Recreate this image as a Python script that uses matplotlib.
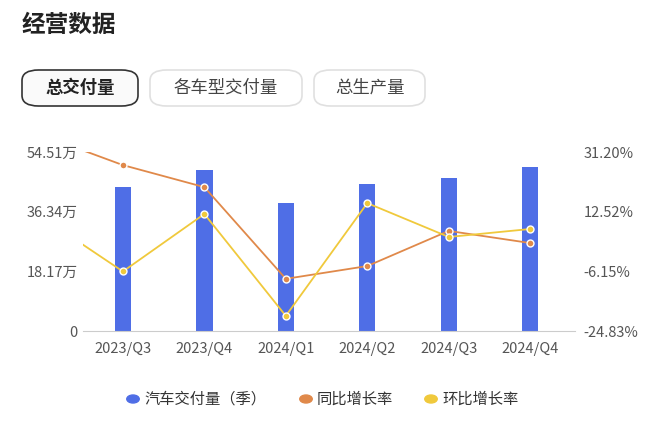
import matplotlib
matplotlib.use("Agg")
import matplotlib.pyplot as plt
from matplotlib.patches import FancyBboxPatch
import numpy as np

plt.rcParams['font.family'] = 'Noto Sans CJK SC'

categories = ["2023/Q3", "2023/Q4", "2024/Q1", "2024/Q2", "2024/Q3", "2024/Q4"]
deliveries = [43.9, 49.0, 39.0, 44.8, 46.6, 49.9]  # 万
yoy_prev, yoy = 36.5, [27.1, 20.2, -8.5, -4.5, 6.5, 2.7]
qoq_prev, qoq = 10.9, [-6.2, 11.8, -20.1, 15.2, 4.6, 7.1]
left_ticks = [0, 18.17, 36.34, 54.51]
left_labels = ["0", "18.17万", "36.34万", "54.51万"]
right_ticks = [-24.83, -6.15, 12.52, 31.20]
right_labels = ["-24.83%", "-6.15%", "12.52%", "31.20%"]

W, H = 660, 423
fig = plt.figure(figsize=(W/100, H/100), dpi=100)
ax = fig.add_axes([83/W, 1-331/H, (575-83)/W, (331-152)/H])
x = np.arange(len(categories))
blue, orange, yellow = "#4f6ee6", "#e0894a", "#f0c93c"
ax.bar(x, deliveries, width=0.2, color=blue, zorder=2)
ax.set_ylim(0, 54.51)
ax.set_xlim(-0.49, 5.55)
ax.set_yticks(left_ticks)
ax.set_yticklabels(left_labels)
ax.set_xticks(x)
ax.set_xticklabels(categories)
for s in ["top", "right", "left"]:
    ax.spines[s].set_visible(False)
ax.spines["bottom"].set_color("#cccccc")
ax.tick_params(axis='both', length=0, labelsize=10.5, colors="#555555")
ax.tick_params(axis='x', pad=8)
ax.tick_params(axis='y', pad=4)

ax2 = ax.twinx()
ax2.set_ylim(-24.83, 31.20)
xl = np.concatenate([[-1], x])
ax2.plot(xl, [yoy_prev] + yoy, color=orange, lw=1.3, marker='o', ms=5,
         markevery=list(range(1, 7)), markerfacecolor=orange, markeredgecolor='white', mew=1)
ax2.plot(xl, [qoq_prev] + qoq, color=yellow, lw=1.3, marker='o', ms=5,
         markevery=list(range(1, 7)), markerfacecolor=yellow, markeredgecolor='white', mew=1)
ax2.set_xlim(-0.49, 5.55)
ax2.set_yticks(right_ticks)
ax2.set_yticklabels(right_labels)
for s in ax2.spines.values():
    s.set_visible(False)
ax2.tick_params(axis='y', length=0, labelsize=10.5, colors="#555555", pad=6)

fig.text(22/W, 1-25/H, "经营数据", fontsize=17, fontweight='bold', va='center', color="#222222")
btns = [("总交付量", 22, 138, True), ("各车型交付量", 150, 302, False), ("总生产量", 314, 425, False)]
for label, x0, x1, active in btns:
    p = FancyBboxPatch((x0/W, 1-106/H), (x1-x0)/W, 36/H, boxstyle="round,pad=0,rounding_size=0.025",
                       transform=fig.transFigure, fc="white" if not active else "#fafafa",
                       ec="#333333" if active else "#e0e0e0", lw=1.2)
    fig.patches.append(p)
    fig.text((x0+x1)/2/W, 1-88/H, label, ha='center', va='center', fontsize=12.5,
             color="#222222" if active else "#444444", fontweight='bold' if active else 'normal')

legend = [("汽车交付量（季）", blue, 133), ("同比增长率", orange, 306), ("环比增长率", yellow, 431)]
for label, c, px in legend:
    fig.patches.append(matplotlib.patches.Circle((px/W, 1-399/H), 4/H, transform=fig.transFigure, color=c))
    fig.text((px+11)/W, 1-399/H, label, va='center', fontsize=11, color="#333333")

fig.savefig("out.png", dpi=100)
